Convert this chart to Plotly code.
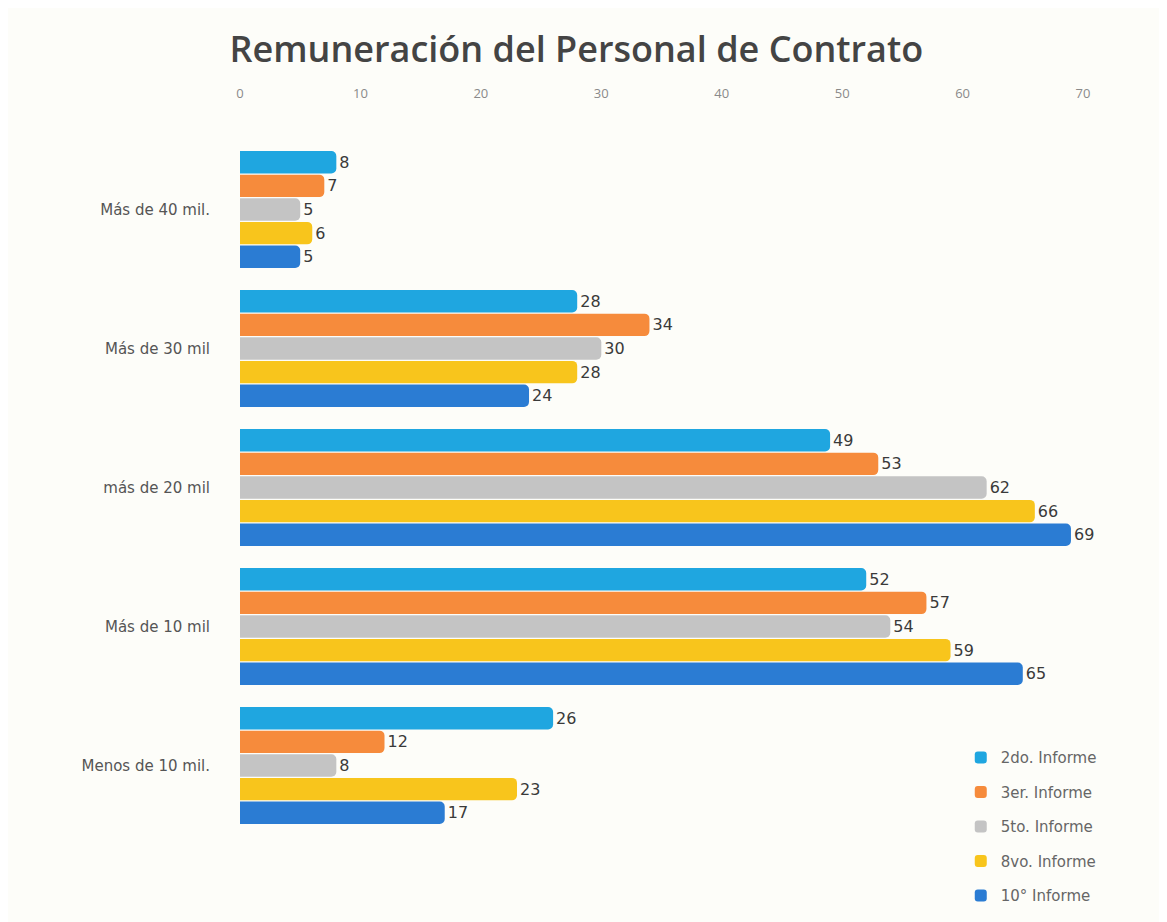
import plotly.graph_objects as go

categories = ["Más de 40 mil.", "Más de 30 mil", "más de 20 mil", "Más de 10 mil", "Menos de 10 mil."]
series_names = ["2do. Informe", "3er. Informe", "5to. Informe", "8vo. Informe", "10° Informe"]
v_2do = [8, 28, 49, 52, 26]
v_3er = [7, 34, 53, 57, 12]
v_5to = [5, 30, 62, 54, 8]
v_8vo = [6, 28, 66, 59, 23]
v_10 = [5, 24, 69, 65, 17]
x_ticks = [0, 10, 20, 30, 40, 50, 60, 70]

values = [v_2do, v_3er, v_5to, v_8vo, v_10]
colors = ["#1FA6E0", "#F68B3C", "#C4C4C4", "#F8C51C", "#2B7CD3"]

fig = go.Figure()
for name, vals, col in zip(series_names, values, colors):
    fig.add_trace(go.Bar(
        y=categories, x=vals, name=name, orientation="h",
        marker=dict(color=col, line=dict(width=0), cornerradius=5),
        text=[str(v) for v in vals], textposition="outside",
        textfont=dict(size=16, color="#3a3a3a", family="DejaVu Sans"),
        cliponaxis=False, legendgroup=name,
    ))

fig.update_layout(
    width=1167, height=922,
    barmode="group", bargap=0.15, bargroupgap=0.05,
    paper_bgcolor="#fdfdf9", plot_bgcolor="#fdfdf9",
    margin=dict(l=232, r=92, t=132, b=95),
    title=dict(text="Remuneración del Personal de Contrato", x=0.487, xanchor="center",
               y=0.955, yanchor="middle",
               font=dict(size=36, color="#444444", family="Open Sans", weight=600)),
    xaxis=dict(side="top", range=[0, 70], tickvals=x_ticks, showgrid=False, zeroline=False,
               tickfont=dict(size=13, color="#8a8a8a", family="Open Sans"), showline=False,
               ticks="", ticklabelstandoff=38),
    yaxis=dict(autorange="reversed", showgrid=False, showline=False, ticks="",
               tickfont=dict(size=15, color="#555555", family="DejaVu Sans"),
               ticklabelstandoff=29),
    legend=dict(x=0.855, y=0.135, xanchor="left", yanchor="top", traceorder="grouped",
                tracegroupgap=12, bgcolor="rgba(0,0,0,0)",
                font=dict(size=15, color="#666666", family="DejaVu Sans")),
    showlegend=True,
)

fig.write_html("out.html")
